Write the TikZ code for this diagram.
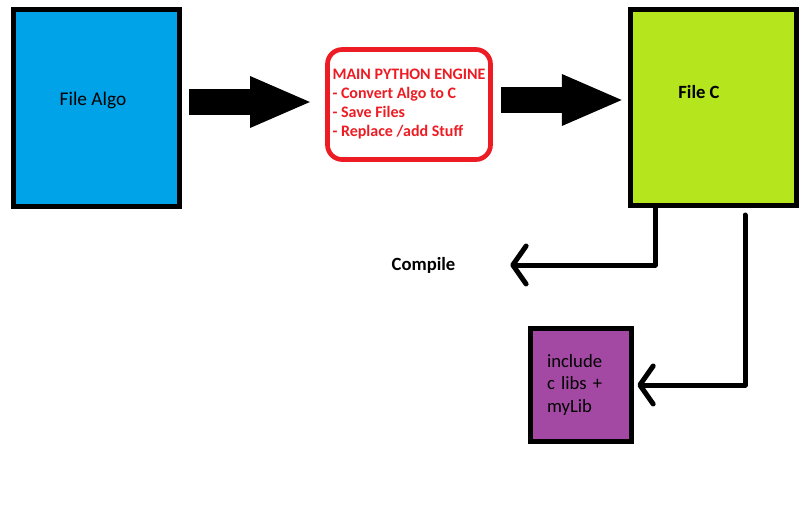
\documentclass[tikz,border=0pt]{standalone}
\usepackage{fontspec}
\setmainfont{Carlito}
\usepackage{tikz}
\usetikzlibrary{arrows.meta,calc}

\definecolor{algoblue}{RGB}{0,162,232}
\definecolor{cgreen}{RGB}{181,230,29}
\definecolor{libpurple}{RGB}{163,73,164}
\definecolor{enginered}{RGB}{237,28,36}

\tikzset{
  filebox/.style={draw=black, line width=3.75pt, inner sep=0pt},
  boxtext/.style={font=\fontsize{14.5}{17}\selectfont},
  boldtext/.style={font=\bfseries\fontsize{14}{17}\selectfont},
  fatarrow/.style={line width=19.5pt, -{Triangle[length=47pt,width=35pt]}},
  thinarrow/.style={line width=3.75pt, line join=round, line cap=round, -{Straight Barb[length=10pt,width=28.5pt,round]}}
}

\begin{document}
\begin{tikzpicture}[x=0.75pt,y=0.75pt,yscale=-1,xscale=1]
        \useasboundingbox (0,0) rectangle (808,511);

        \node[filebox, fill=algoblue, minimum width=124.5pt, minimum height=147.75pt, label={[shift={(-3.5,8)}, boxtext]center:File Algo}] (algo) at (96.5,108) {};
        \node[draw=enginered, line width=3.5pt, rounded corners=11pt, minimum width=122.25pt, minimum height=82.5pt, text=enginered, align=left, font=\bfseries\fontsize{12}{14.25}\selectfont] (engine) at (409,104.5) {MAIN PYTHON ENGINE\\- Convert Algo to C\\- Save Files\\- Replace /add Stuff};
        \node[filebox, fill=cgreen, minimum width=124.5pt, minimum height=147pt, label={[shift={(-14.5,15.5)}, boldtext]center:File C}] (filec) at (713.5,107.5) {};
        \node[filebox, fill=libpurple, minimum width=75.75pt, minimum height=84.75pt, text width=51pt, align=left, font=\fontsize{14}{16.9}\selectfont] (libs) at (581,385) {include\\c libs +\\myLib};
        \node[inner sep=0pt, boldtext] (compile) at (423.5,265) {Compile};

        \draw[fatarrow] ($(algo.east)+(7,-6)$) -- ($(engine.west)+(-12.5,-2.5)$);
        \draw[fatarrow] ($(engine.east)+(8,-4.5)$) -- ($(filec.west)+(-3.5,-7.5)$);
        \draw[thinarrow, shorten >=41pt] ($(filec.south)+(-58.5,0)$) |- (compile.east);
        \draw[thinarrow, shorten >=2.5pt] ($(filec.south)+(31.5,7)$) |- (libs.east);

\end{tikzpicture}
\end{document}
